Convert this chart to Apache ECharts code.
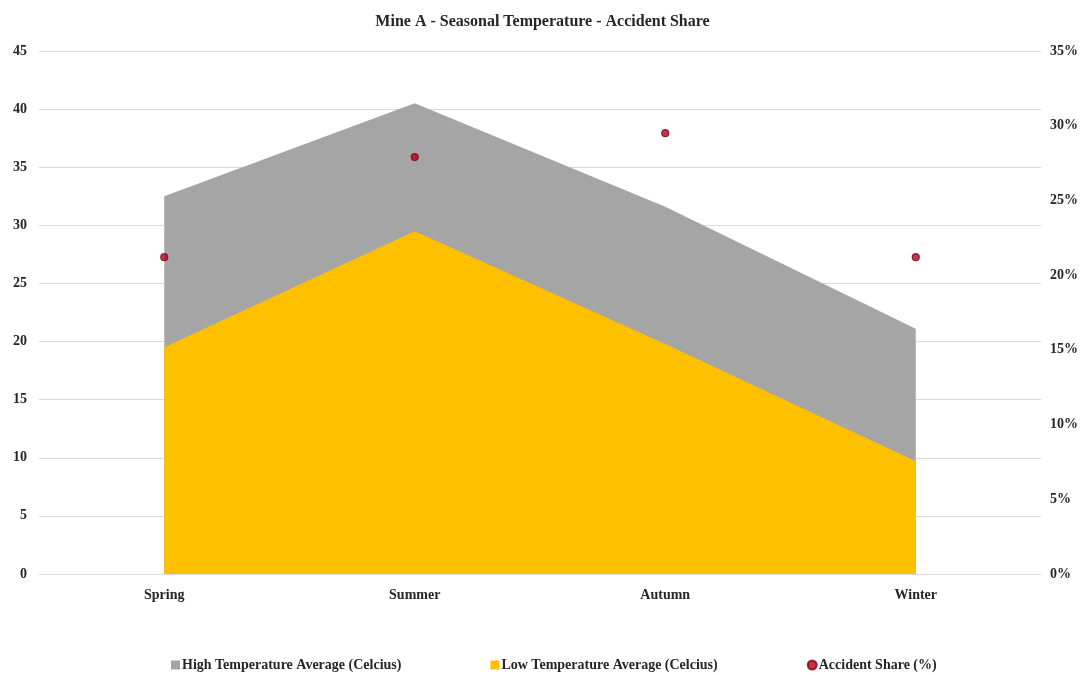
<!DOCTYPE html>
<html>
<head>
<meta charset="utf-8">
<script src="https://cdn.jsdelivr.net/npm/echarts@6/dist/echarts.min.js"></script>
<style>
  html, body { margin: 0; padding: 0; background: #fff; }
  #chart { width: 1085px; height: 675px; }
</style>
</head>
<body>
<div id="chart"></div>
<script>
// Seasonal data for Mine A
const seasons = ['Spring', 'Summer', 'Autumn', 'Winter'];
const highTemp = [32.5, 40.5, 31.6, 21.1];
const lowTemp = [19.5, 29.5, 19.8, 9.7];
const accidentShare = [21.2, 27.9, 29.5, 21.2];

const serif = '"Liberation Serif", "DejaVu Serif", serif';
const textColor = '#262626';

const chart = echarts.init(document.getElementById('chart'));
chart.setOption({
  animation: false,
  backgroundColor: '#ffffff',
  title: {
    text: 'Mine A - Seasonal Temperature - Accident Share',
    left: 'center',
    top: 9,
    textStyle: { fontFamily: serif, fontSize: 16, fontWeight: 'bold', color: textColor }
  },
  legend: {
    top: 653,
    left: 166,
    itemGap: 89,
    itemWidth: 9,
    itemHeight: 9,
    textStyle: { fontFamily: serif, fontSize: 14, fontWeight: 'bold', color: textColor, padding: [0, 0, 0, -3] },
    data: [
      { name: 'High Temperature Average (Celcius)', icon: 'rect' },
      { name: 'Low Temperature Average (Celcius)', icon: 'rect' },
      { name: 'Accident Share (%)', icon: 'circle' }
    ]
  },
  grid: { left: 39, right: 44, top: 51, bottom: 101 },
  xAxis: {
    type: 'category',
    data: seasons,
    boundaryGap: true,
    axisLine: { show: false },
    axisTick: { show: false },
    axisLabel: { margin: 14, fontFamily: serif, fontSize: 14, fontWeight: 'bold', color: textColor }
  },
  yAxis: [
    {
      type: 'value',
      min: 0, max: 45, interval: 5,
      axisLine: { show: false },
      axisTick: { show: false },
      splitLine: { lineStyle: { color: '#d9d9d9', width: 1 } },
      axisLabel: { margin: 12, fontFamily: serif, fontSize: 14, fontWeight: 'bold', color: textColor }
    },
    {
      type: 'value',
      min: 0, max: 35, interval: 5,
      position: 'right',
      axisLine: { show: false },
      axisTick: { show: false },
      splitLine: { show: false },
      axisLabel: { margin: 9, fontFamily: serif, fontSize: 14, fontWeight: 'bold', color: textColor, formatter: '{value}%' }
    }
  ],
  series: [
    {
      name: 'High Temperature Average (Celcius)',
      type: 'line',
      data: highTemp,
      yAxisIndex: 0,
      symbol: 'none',
      lineStyle: { width: 0 },
      itemStyle: { color: '#a5a5a5' },
      areaStyle: { color: '#a5a5a5', opacity: 1 },
      z: 2
    },
    {
      name: 'Low Temperature Average (Celcius)',
      type: 'line',
      data: lowTemp,
      yAxisIndex: 0,
      symbol: 'none',
      lineStyle: { width: 0 },
      itemStyle: { color: '#ffc000' },
      areaStyle: { color: '#ffc000', opacity: 1 },
      z: 3
    },
    {
      name: 'Accident Share (%)',
      type: 'scatter',
      data: accidentShare,
      yAxisIndex: 1,
      symbol: 'circle',
      symbolSize: 7,
      itemStyle: { color: '#b5001f', borderColor: '#7f0010', borderWidth: 1.2 },
      z: 5
    }
  ]
});
</script>
</body>
</html>
